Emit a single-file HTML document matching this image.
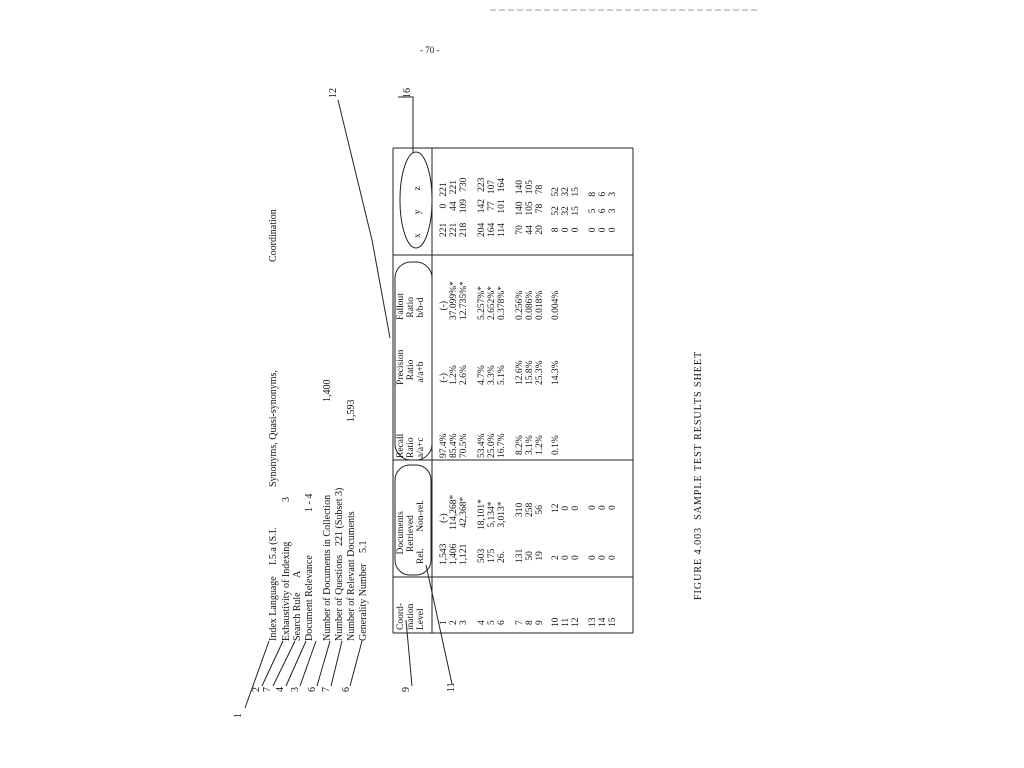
<!DOCTYPE html>
<html><head><meta charset="utf-8"><style>
body{margin:0;background:#fff;}
#c{position:relative;width:1024px;height:768px;overflow:hidden;background:#fff;font-family:"Liberation Serif",serif;color:#111;}
.r{position:absolute;transform-origin:0 0;transform:rotate(-90deg);white-space:pre;font-size:10px;line-height:10px;}
.t{line-height:10px;font-size:9.5px;}
svg{position:absolute;left:0;top:0;}
</style></head><body><div id="c">
<svg width="1024" height="768">
<g stroke="#222" stroke-width="1" fill="none">
<line x1="393" y1="148" x2="393" y2="633"/>
<line x1="393" y1="633" x2="633" y2="633"/>
<line x1="633" y1="148" x2="633" y2="633"/>
<line x1="393" y1="148" x2="633" y2="148"/>
<line x1="432" y1="148" x2="432" y2="633"/>
<line x1="393" y1="577" x2="633" y2="577"/>
<line x1="393" y1="460" x2="633" y2="460"/>
<line x1="393" y1="255" x2="633" y2="255"/>
<rect x="395" y="465" width="36" height="110" rx="15"/>
<rect x="395" y="262" width="37" height="198" rx="16"/>
<ellipse cx="416" cy="200" rx="16" ry="48"/>
<line x1="245" y1="708" x2="269" y2="641"/>
<line x1="262" y1="686" x2="283" y2="641"/>
<line x1="273" y1="686" x2="295" y2="641"/>
<line x1="286" y1="686" x2="306" y2="641"/>
<line x1="300" y1="686" x2="316" y2="641"/>
<line x1="317" y1="686" x2="330" y2="641"/>
<line x1="331" y1="686" x2="342" y2="641"/>
<line x1="350" y1="686" x2="362" y2="641"/>
<line x1="412" y1="686" x2="406" y2="620"/>
<line x1="452" y1="684" x2="426" y2="565"/>
<path d="M338 100 L372 240 L390 338"/>
<path d="M398 97 L413 97 L413 153"/>
<line x1="490" y1="10" x2="760" y2="10" stroke="#999" stroke-dasharray="6 3"/>
</g>
</svg>
<div class="r" style="left:269px;top:641px">Index Language</div>
<div class="r" style="left:269px;top:565px">I.5.a (S.I.</div>
<div class="r" style="left:269px;top:487px">Synonyms, Quasi-synonyms,</div>
<div class="r" style="left:269px;top:262px">Coordination</div>
<div class="r" style="left:282px;top:641px">Exhaustivity of Indexing</div>
<div class="r" style="left:282px;top:502px">3</div>
<div class="r" style="left:293px;top:641px">Search Rule</div>
<div class="r" style="left:293px;top:578px">A</div>
<div class="r" style="left:305px;top:641px">Document Relevance</div>
<div class="r" style="left:305px;top:512px">1 - 4</div>
<div class="r" style="left:323px;top:641px">Number of Documents in Collection</div>
<div class="r" style="left:323px;top:402px">1,400</div>
<div class="r" style="left:335px;top:641px">Number of Questions</div>
<div class="r" style="left:335px;top:546px">221 (Subset 3)</div>
<div class="r" style="left:347px;top:641px">Number of Relevant Documents</div>
<div class="r" style="left:347px;top:422px">1,593</div>
<div class="r" style="left:359px;top:641px">Generality Number</div>
<div class="r" style="left:359px;top:553px">5.1</div>
<div class="r" style="left:234px;top:718px">1</div>
<div class="r" style="left:252px;top:692px">2</div>
<div class="r" style="left:263px;top:692px">7</div>
<div class="r" style="left:276px;top:692px">4</div>
<div class="r" style="left:291px;top:692px">3</div>
<div class="r" style="left:308px;top:692px">6</div>
<div class="r" style="left:322px;top:692px">7</div>
<div class="r" style="left:342px;top:692px">6</div>
<div class="r" style="left:402px;top:692px">9</div>
<div class="r" style="left:447px;top:692px">11</div>
<div class="r" style="left:329px;top:98px">12</div>
<div class="r" style="left:403px;top:98px">16</div>
<div class="r t" style="left:396px;top:630px">Coord-
ination
Level</div>
<div class="r t" style="left:396px;top:564px">    Documents
     Retrieved
Rel.       Non-rel.</div>
<div class="r t" style="left:396px;top:458px">Recall
Ratio
a/a+c</div>
<div class="r t" style="left:396px;top:385px">Precision
  Ratio
 a/a+b</div>
<div class="r t" style="left:396px;top:320px">Fallout
 Ratio
 b/b-d</div>
<div class="r t" style="left:413px;top:238px">x        y        z</div>
<div class="r t" style="left:439px;top:625px">1
2
3</div>
<div class="r t" style="left:477px;top:625px">4
5
6</div>
<div class="r t" style="left:515px;top:625px">7
8
9</div>
<div class="r t" style="left:551px;top:627px">10
11
12</div>
<div class="r t" style="left:588px;top:627px">13
14
15</div>
<div class="r t" style="left:439px;top:565px">1,543
1,406
1,121</div>
<div class="r t" style="left:477px;top:563px">503
175
26.</div>
<div class="r t" style="left:515px;top:563px">131
 50
 19</div>
<div class="r t" style="left:551px;top:560px">2
0
0</div>
<div class="r t" style="left:588px;top:560px">0
0
0</div>
<div class="r t" style="left:439px;top:530px">   (-)
114,268*
 42,368*</div>
<div class="r t" style="left:477px;top:530px">18,101*
 5,134*
 3,013*</div>
<div class="r t" style="left:515px;top:517px">310
258
 56</div>
<div class="r t" style="left:551px;top:513px">12
 0
 0</div>
<div class="r t" style="left:588px;top:510px">0
0
0</div>
<div class="r t" style="left:439px;top:458px">97.4%
85.4%
70.5%</div>
<div class="r t" style="left:477px;top:458px">53.4%
25.0%
16.7%</div>
<div class="r t" style="left:515px;top:455px">8.2%
3.1%
1.2%</div>
<div class="r t" style="left:551px;top:455px">0.1%</div>
<div class="r t" style="left:439px;top:385px"> (-)
1.2%
2.6%</div>
<div class="r t" style="left:477px;top:385px">4.7%
3.3%
5.1%</div>
<div class="r t" style="left:515px;top:385px">12.6%
15.8%
25.3%</div>
<div class="r t" style="left:551px;top:385px">14.3%</div>
<div class="r t" style="left:439px;top:320px">    (-)
37.099%*
12.735%*</div>
<div class="r t" style="left:477px;top:320px">5.257%*
2.652%*
0.378%*</div>
<div class="r t" style="left:515px;top:320px">0.256%
0.086%
0.018%</div>
<div class="r t" style="left:551px;top:320px">0.004%</div>
<div class="r t" style="left:439px;top:237px">221      0   221
221     44   221
218    109   730</div>
<div class="r t" style="left:477px;top:237px">204    142   223
164     77   107
114    101   164</div>
<div class="r t" style="left:515px;top:237px"> 70    140   140
 44    105   105
 20     78    78</div>
<div class="r t" style="left:551px;top:237px">  8     52    52
  0     32    32
  0     15    15</div>
<div class="r t" style="left:588px;top:237px">  0      5     8
  0      6     6
  0      3     3</div>
<div class="r" style="left:694px;top:600px;letter-spacing:1px">FIGURE 4.003  SAMPLE TEST RESULTS SHEET</div>
<div style="position:absolute;left:420px;top:45px;font-size:9px;">-  70  -</div>
</div></body></html>
